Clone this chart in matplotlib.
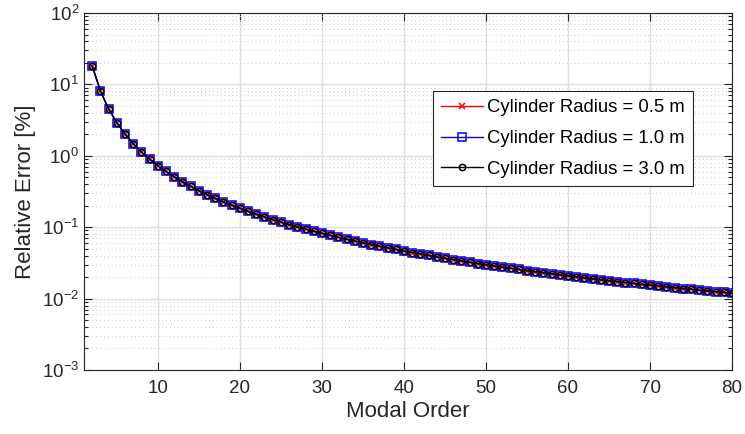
import matplotlib
matplotlib.use("Agg")
import matplotlib.pyplot as plt
import numpy as np
from matplotlib.ticker import LogLocator, NullFormatter, FixedLocator

plt.rcParams['font.family'] = ['Liberation Sans', 'DejaVu Sans']

# modal order and relative error [%]
order = list(range(2, 81))
err = [18.1, 8.06, 4.53, 2.90, 2.01, 1.48, 1.13, 0.895, 0.730,
       0.603, 0.507, 0.432, 0.373, 0.325, 0.286, 0.253, 0.226, 0.203,
       0.184, 0.167, 0.152, 0.139, 0.128, 0.118, 0.109, 0.101, 0.0942,
       0.0878, 0.0821, 0.0769, 0.0722, 0.0679, 0.0640, 0.0605, 0.0572,
       0.0542, 0.0514, 0.0488, 0.0464, 0.0442, 0.0421, 0.0402, 0.0384,
       0.0367, 0.0352, 0.0337, 0.0323, 0.0310, 0.0298, 0.0287, 0.0276,
       0.0266, 0.0256, 0.0247, 0.0238, 0.0230, 0.0222, 0.0215, 0.0208,
       0.0201, 0.0195, 0.0189, 0.0183, 0.0178, 0.0173, 0.0168, 0.0163,
       0.0158, 0.0154, 0.0150, 0.0146, 0.0142, 0.0138, 0.0135, 0.0131,
       0.0128, 0.0125, 0.0122, 0.0119]
err_r05 = err
err_r10 = err
err_r30 = err
labels = ["Cylinder Radius = 0.5 m", "Cylinder Radius = 1.0 m", "Cylinder Radius = 3.0 m"]

fig = plt.figure(figsize=(7.45, 4.34), dpi=100)
ax = fig.add_axes([0.1128, 0.1475, 0.8698, 0.8225])

ax.semilogy(order, err_r05, '-x', color='red', lw=1, ms=5, mew=1.1, label=labels[0])
ax.semilogy(order, err_r10, '-s', color='blue', lw=1, ms=5.5, mew=1.1, mfc='none', label=labels[1])
ax.semilogy(order, err_r30, '-o', color='black', lw=1, ms=4.5, mew=1.1, mfc='none', label=labels[2])

ax.set_xlim(1, 80)
ax.set_ylim(1e-3, 1e2)
ax.xaxis.set_major_locator(FixedLocator([10, 20, 30, 40, 50, 60, 70, 80]))
ax.yaxis.set_major_locator(LogLocator(base=10, numticks=10))
ax.yaxis.set_minor_locator(LogLocator(base=10, subs=np.arange(2, 10), numticks=20))
ax.yaxis.set_minor_formatter(NullFormatter())

ax.grid(True, which='major', color='#dedede', lw=1, ls='-')
ax.grid(True, which='minor', axis='y', color='#c8c8c8', lw=0.7, ls=(0, (1, 3)))
ax.set_axisbelow(True)

ax.tick_params(which='both', direction='in', top=True, right=True,
               labelsize=13.5, colors='#262626', width=0.8)
ax.tick_params(which='major', length=6)
ax.tick_params(which='minor', length=3)
ax.tick_params(axis='x', pad=7)
for s in ax.spines.values():
    s.set_color('#262626')
    s.set_linewidth(0.8)

ax.set_xlabel("Modal Order", fontsize=16, color='#262626', labelpad=3)
ax.set_ylabel("Relative Error [%]", fontsize=16, color='#262626', labelpad=4)

leg = ax.legend(loc='upper right', bbox_to_anchor=(0.940, 0.7815), borderaxespad=0,
                fontsize=13.3, fancybox=False, framealpha=1, edgecolor='#262626',
                handlelength=2.3, borderpad=0.45, labelspacing=0.74, handletextpad=0.2)
leg.get_frame().set_linewidth(0.8)

fig.savefig("out.png", dpi=100)
